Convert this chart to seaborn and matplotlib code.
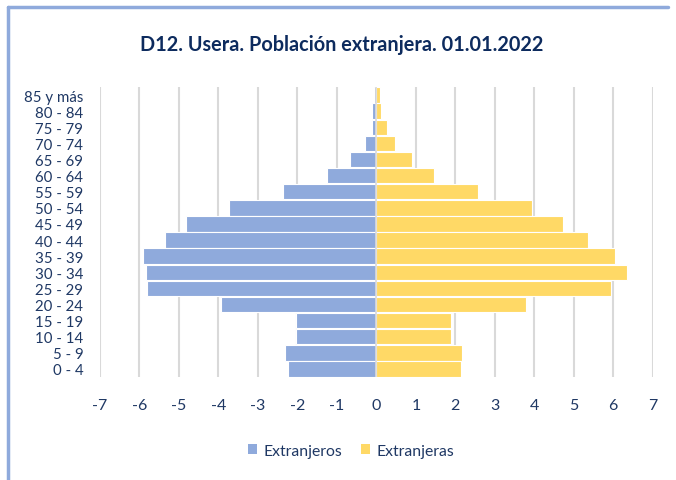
import matplotlib
matplotlib.use("Agg")
import matplotlib.pyplot as plt
import seaborn as sns
import pandas as pd
from matplotlib.patches import Patch
from matplotlib.lines import Line2D

ages = ["85 y más", "80 - 84", "75 - 79", "70 - 74", "65 - 69", "60 - 64", "55 - 59",
        "50 - 54", "45 - 49", "40 - 44", "35 - 39", "30 - 34", "25 - 29", "20 - 24",
        "15 - 19", "10 - 14", "5 - 9", "0 - 4"]
hombres = [-0.05, -0.1, -0.12, -0.28, -0.66, -1.25, -2.36, -3.72, -4.82, -5.36,
           -5.9, -5.83, -5.8, -3.93, -2.04, -2.03, -2.31, -2.25]
mujeres = [0.1, 0.13, 0.26, 0.48, 0.91, 1.46, 2.58, 3.95, 4.73, 5.37,
           6.05, 6.34, 5.94, 3.78, 1.89, 1.89, 2.17, 2.14]
series = ["Extranjeros", "Extranjeras"]
xticks = [-7, -6, -5, -4, -3, -2, -1, 0, 1, 2, 3, 4, 5, 6, 7]
xtick_labels = [str(v) for v in xticks]
title = "D12. Usera. Población extranjera. 01.01.2022"

df = pd.DataFrame({
    "edad": ages * 2,
    "valor": hombres + mujeres,
    "sexo": [series[0]] * len(ages) + [series[1]] * len(ages),
})

sns.set_theme(style="white")
plt.rcParams["font.family"] = ["Lato", "DejaVu Sans"]
navy = "#1f3864"
colors = {"Extranjeros": "#8faadc", "Extranjeras": "#ffd966"}

fig = plt.figure(figsize=(6.76, 4.81), dpi=100)
ax = fig.add_axes([100 / 676, 1 - 378 / 481, (652.7 - 100) / 676, (378 - 88) / 481])

sns.barplot(data=df, y="edad", x="valor", hue="sexo", order=ages, hue_order=series,
            dodge=False, palette=colors, orient="h", saturation=1, width=0.96,
            edgecolor="white", linewidth=0.8, ax=ax, legend=False)

ax.set_xlim(-7, 7)
ax.set_ylim(len(ages) - 0.5, -0.5)
ax.set_xticks(xticks)
ax.set_xticklabels(xtick_labels)
ax.grid(axis="x", color="#d9d9d9", lw=1.5)
ax.grid(axis="y", visible=False)
ax.set_axisbelow(True)
ax.axvline(0, color="#d9d9d9", lw=1.2, zorder=3)
for s in ax.spines.values():
    s.set_visible(False)
ax.set_xlabel("")
ax.set_ylabel("")
ax.tick_params(axis="x", length=0, pad=15, labelsize=11.5, labelcolor=navy)
ax.tick_params(axis="y", length=0, pad=12, labelsize=10.8, labelcolor=navy)

fig.text(342 / 676, 1 - 45 / 481, title, ha="center", va="center",
         fontsize=14.3, fontweight="bold", color="#0d2b5e")

handles = [Patch(facecolor=colors[s], edgecolor="none", label=s) for s in series]
leg = fig.legend(handles=handles, loc="center", bbox_to_anchor=(351 / 676, 1 - 452 / 481),
                 ncol=2, frameon=False, handlelength=0.6, handleheight=0.6,
                 handletextpad=0.4, columnspacing=1.2, fontsize=11.3)
for t in leg.get_texts():
    t.set_color(navy)

# outer frame (top and left edges visible)
fig.add_artist(Line2D([8 / 676, 8 / 676], [0, 1 - 8 / 481], transform=fig.transFigure,
                      color="#8faadc", lw=2.5))
fig.add_artist(Line2D([8 / 676, 668 / 676], [1 - 8 / 481, 1 - 8 / 481], transform=fig.transFigure,
                      color="#8faadc", lw=2.5))

fig.savefig("out.png", dpi=100)
